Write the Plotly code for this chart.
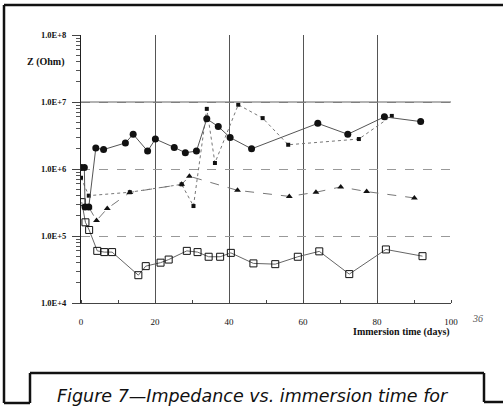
import plotly.graph_objects as go

# Impedance |Z| (Ohm) versus immersion time (days) for four coatings
days_circle = [0, 0.9, 1.1, 2.1, 4.0, 6.1, 12.0, 14.1, 18.0, 20.1, 25.2, 28.2,
               31.2, 34.0, 37.1, 40.3, 46.1, 64.0, 72.1, 82.0, 91.8]
z_circle = [1.05e6, 1.05e6, 2.7e5, 2.7e5, 2.05e6, 1.95e6, 2.45e6, 3.3e6, 1.85e6,
            2.8e6, 2.1e6, 1.75e6, 1.85e6, 5.6e6, 4.3e6, 2.95e6, 2.0e6, 4.8e6,
            3.3e6, 6.0e6, 5.1e6]

days_small = [0, 2.1, 13.2, 27.2, 30.4, 34.0, 36.2, 42.5, 49.1, 56.0, 75.1, 84.0]
z_small = [7.4e5, 4.0e5, 4.5e5, 5.9e5, 2.8e5, 7.9e6, 1.23e6, 9.1e6, 5.75e6,
           2.3e6, 2.8e6, 6.2e6]

days_tri = [2.2, 4.2, 7.1, 13.2, 27.2, 29.3, 42.3, 56.3, 63.5, 70.2, 77.2, 90.1]
z_tri = [2.63e5, 1.7e5, 2.57e5, 4.47e5, 5.9e5, 7.8e5, 4.8e5, 3.9e5, 4.5e5,
         5.4e5, 4.6e5, 3.7e5]

days_open = [0.2, 1.2, 2.2, 4.4, 6.3, 8.4, 15.5, 17.5, 21.5, 23.7, 28.6, 31.5,
             34.5, 37.6, 40.5, 46.6, 52.5, 58.6, 64.4, 72.5, 82.4, 92.3]
z_open = [3.2e5, 1.6e5, 1.23e5, 6.0e4, 5.75e4, 5.75e4, 2.6e4, 3.55e4, 4.0e4,
          4.45e4, 6.0e4, 5.75e4, 4.9e4, 4.9e4, 5.6e4, 3.9e4, 3.8e4, 4.9e4,
          5.9e4, 2.7e4, 6.3e4, 5.0e4]

x_ticks = [0, 20, 40, 60, 80, 100]
y_ticks = [1e4, 1e5, 1e6, 1e7, 1e8]
y_tick_text = ["1.0E+4", "1.0E+5", "1.0E+6", "1.0E+7", "1.0E+8"]
y_minor = [m * d for d in (1e4, 1e5, 1e6, 1e7) for m in range(2, 10)]

# page geometry (pixels)
FW, FH = 503, 407
L, R, T, B = 81, 52, 35, 104
PW, PH = FW - L - R, FH - T - B


def px(x):
    return (x - L) / PW


def py(y):
    return (FH - B - y) / PH


SERIF = "Liberation Serif"

fig = go.Figure()

fig.add_trace(go.Scatter(
    x=days_open, y=z_open, mode="lines+markers",
    line=dict(color="#666666", width=1),
    marker=dict(symbol="square-open", size=7, color="#111111", line=dict(width=1))))

fig.add_trace(go.Scatter(
    x=days_tri, y=z_tri, mode="lines+markers",
    line=dict(color="#777777", width=1, dash="dash"),
    marker=dict(symbol="triangle-up", size=6, color="#111111")))

fig.add_trace(go.Scatter(
    x=days_small, y=z_small, mode="lines+markers",
    line=dict(color="#777777", width=1, dash="dot"),
    marker=dict(symbol="square", size=4, color="#111111")))

fig.add_trace(go.Scatter(
    x=days_circle, y=z_circle, mode="lines+markers",
    line=dict(color="#555555", width=1),
    marker=dict(symbol="circle", size=7, color="#111111")))

shapes = []
# solid decade line at 1.0E+7
shapes.append(dict(type="line", xref="paper", yref="paper", x0=0, x1=1,
                   y0=0.75, y1=0.75, line=dict(color="#666666", width=1)))

# page frame and caption box
frame = [
    (4, 5, 503, 5),
    (4, 5, 4, 403),
    (4, 403, 30, 403),
    (30, 403, 30, 373),
    (30, 373, 484, 373),
    (484, 373, 484, 402),
    (484, 402, 503, 402),
]
for x0, y0, x1, y1 in frame:
    shapes.append(dict(type="line", xref="paper", yref="paper",
                       x0=px(x0), y0=py(y0), x1=px(x1), y1=py(y1),
                       line=dict(color="#111111", width=2.5)))

annotations = [
    dict(text="Z (Ohm)", x=px(46), y=py(62), xref="paper", yref="paper",
         showarrow=False, xanchor="center", yanchor="middle",
         font=dict(family=SERIF, size=10, color="#111111", weight="bold")),
    dict(text="Immersion time (days)", x=px(401), y=py(332), xref="paper",
         yref="paper", showarrow=False, xanchor="center", yanchor="middle",
         font=dict(family=SERIF, size=10, color="#111111", weight="bold")),
    dict(text="36", x=px(478), y=py(318), xref="paper", yref="paper",
         showarrow=False, xanchor="center", yanchor="middle",
         font=dict(family=SERIF, size=10, color="#555555", style="italic")),
    dict(text="Figure 7\u2014Impedance vs. immersion time for", x=px(55),
         y=py(396), xref="paper", yref="paper", showarrow=False,
         xanchor="left", yanchor="middle",
         font=dict(family="DejaVu Sans", size=17.5, color="#111111", style="italic")),
]

fig.update_layout(
    width=FW, height=FH,
    margin=dict(l=L, r=R, t=T, b=B),
    paper_bgcolor="white", plot_bgcolor="white",
    showlegend=False,
    shapes=shapes,
    annotations=annotations,
    xaxis=dict(
        range=[0, 100], tickvals=x_ticks, showgrid=True, color="#222222",
        gridcolor="#555555", gridwidth=1, zeroline=False,
        showline=True, linecolor="#444444", linewidth=1,
        ticks="", ticklabelstandoff=10,
        tickfont=dict(family=SERIF, size=9, color="#111111"),
        minor=dict(dtick=10, ticks="inside", ticklen=3, tickcolor="#444444",
                   showgrid=False),
    ),
    yaxis=dict(
        type="log", range=[4, 8], tickvals=y_ticks, ticktext=y_tick_text,
        showgrid=True, gridcolor="#999999", griddash="dash", gridwidth=1,
        zeroline=False, showline=True, linecolor="#222222", linewidth=1,
        ticks="outside", ticklen=8, tickcolor="#444444", ticklabelstandoff=4,
        tickfont=dict(family=SERIF, size=8.5, color="#111111", weight="bold"),
        minor=dict(tickvals=y_minor, ticks="outside", ticklen=4,
                   tickcolor="#555555", showgrid=False),
    ),
)

fig.write_html("out.html")
